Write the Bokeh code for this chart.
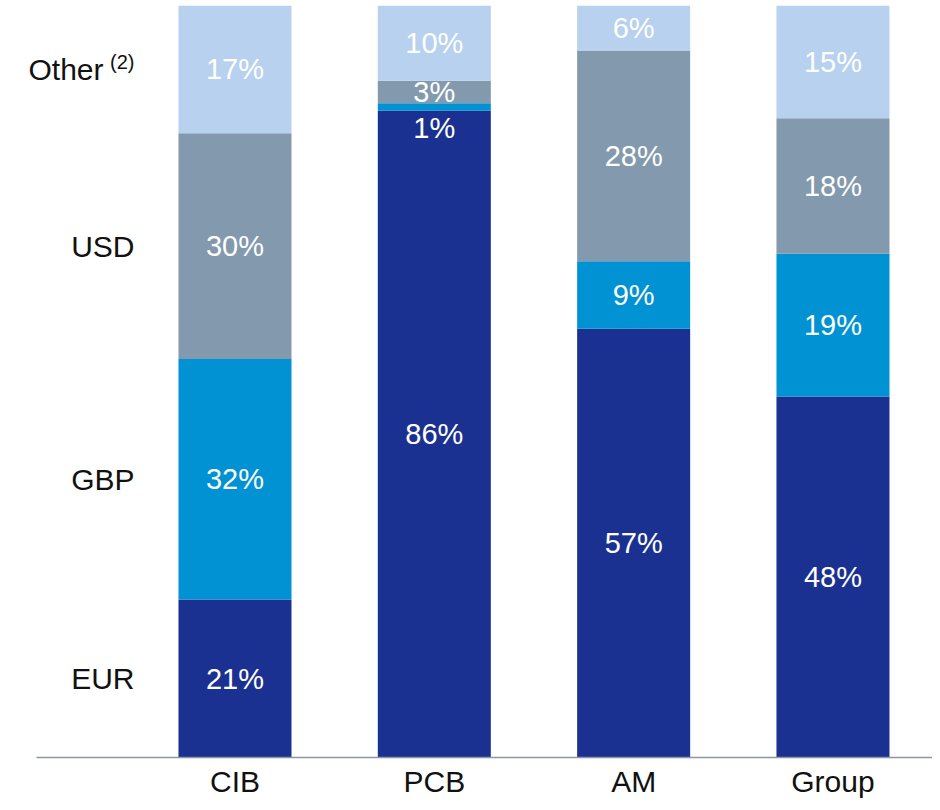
from bokeh.plotting import figure
from bokeh.models import ColumnDataSource, Range1d
from bokeh.core.properties import value
from bokeh.embed import file_html
from bokeh.resources import INLINE

categories = ["CIB", "PCB", "AM", "Group"]
currencies = ["EUR", "GBP", "USD", "Other"]
eur = [21, 86, 57, 48]
gbp = [32, 1, 9, 19]
usd = [30, 3, 28, 18]
other = [17, 10, 6, 15]
series_labels = ["EUR", "GBP", "USD", "Other"]
footnote = "(2)"
colors = ["#1b3191", "#0092d2", "#8399ad", "#b7d1ee"]

FONT = "Liberation Sans"
xs = list(range(len(categories)))
src = ColumnDataSource(dict(x=xs, EUR=eur, GBP=gbp, USD=usd, Other=other))

X0, X1 = -1.1764, 3.4993
p = figure(width=932, height=802, output_backend="svg", toolbar_location=None,
           x_range=Range1d(X0, X1), y_range=Range1d(-5.984, 100),
           x_axis_location=None, y_axis_location=None,
           min_border_left=0, min_border_right=0, min_border_top=5, min_border_bottom=0)
p.outline_line_color = None
p.xgrid.visible = False
p.ygrid.visible = False

p.vbar_stack(currencies, x="x", width=0.567, fill_color=colors, line_color=None, source=src)

# baseline (category axis line)
p.segment(x0=[-0.9958], y0=[0], x1=[X1], y1=[0], line_color="#8c97a5", line_width=1.5)

# category labels below baseline
cat_src = ColumnDataSource(dict(x=xs, y=[0] * len(xs), text=categories))
p.text(x="x", y="y", text="text", source=cat_src, y_offset=24, text_align="center",
       text_baseline="middle", text_color="#111111", text_font=value(FONT),
       text_font_size="30px")

# segment labels
all_series = [eur, gbp, usd, other]
lx, ly, lt, loff = [], [], [], []
for i in xs:
    base = 0
    for s in all_series:
        v = s[i]
        lx.append(i)
        ly.append(base + v / 2)
        lt.append(f"{v}%")
        loff.append(21 if v < 2 else 0)
        base += v
lab = ColumnDataSource(dict(x=lx, y=ly, text=lt, yo=loff))
p.text(x="x", y="y", text="text", y_offset="yo", source=lab, text_align="center",
       text_baseline="middle", text_color="white", text_font=value(FONT),
       text_font_size="29px")

# left legend labels aligned to CIB segments
cy, base = [], 0
for s in all_series:
    cy.append(base + s[0] / 2)
    base += s[0]
xo = [0, 0, 0, -31]
leg = ColumnDataSource(dict(x=[-0.504] * 4, y=cy, text=series_labels, xo=xo))
p.text(x="x", y="y", text="text", x_offset="xo", source=leg, text_align="right",
       text_baseline="middle", text_color="#111111", text_font=value(FONT),
       text_font_size="30px")
p.text(x=[-0.504], y=[cy[3]], text=[footnote], y_offset=-7, text_align="right",
       text_baseline="middle", text_color="#111111", text_font=value(FONT),
       text_font_size="20px")

open("out.html", "w").write(file_html(p, INLINE))
